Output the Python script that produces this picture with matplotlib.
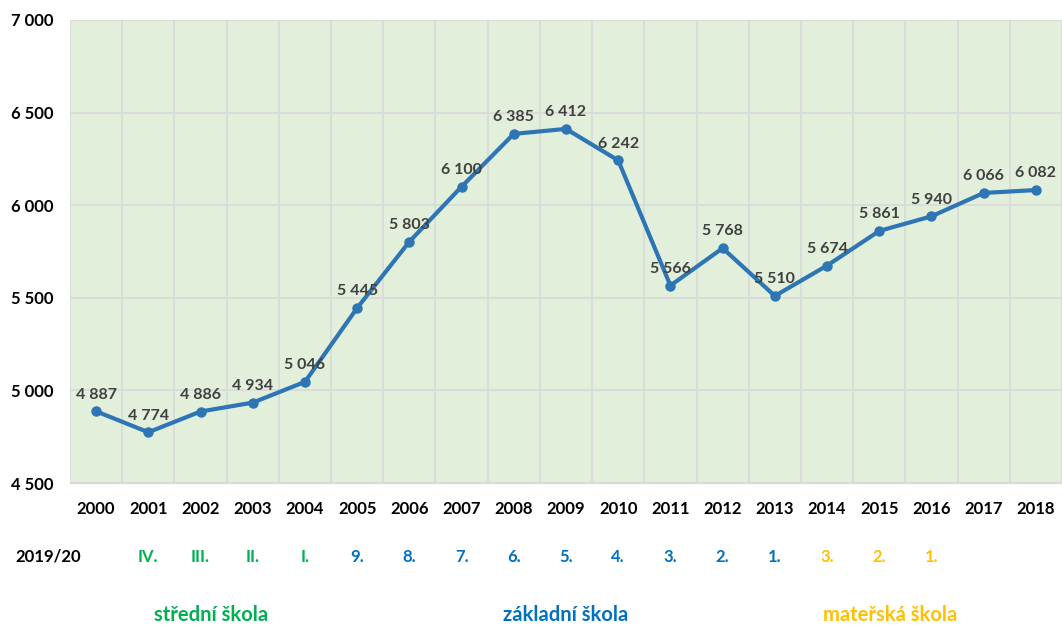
import matplotlib
matplotlib.use("Agg")
import matplotlib.pyplot as plt

years = [str(y) for y in range(2000, 2019)]
values = [4887, 4774, 4886, 4934, 5046, 5445, 5803, 6100, 6385, 6412, 6242,
          5566, 5768, 5510, 5674, 5861, 5940, 6066, 6082]
grades = ["", "IV.", "III.", "II.", "I.", "9.", "8.", "7.", "6.", "5.", "4.",
          "3.", "2.", "1.", "3.", "2.", "1.", "", ""]
grade_groups = ["", "s", "s", "s", "s", "z", "z", "z", "z", "z", "z",
                "z", "z", "z", "m", "m", "m", "", ""]
group_names = {"s": "střední škola", "z": "základní škola", "m": "mateřská škola"}
group_centers = {"s": 2.2, "z": 9.0, "m": 15.2}
yticks = [4500, 5000, 5500, 6000, 6500, 7000]

colors = {"s": "#00B050", "z": "#0070C0", "m": "#FFC000"}

plt.rcParams['font.family'] = ['Lato', 'DejaVu Sans']

fig = plt.figure(figsize=(10.62, 6.26), dpi=100)
ax = fig.add_axes([70/1062, 143/626, 992/1062, 463/626])
ax.set_facecolor("#E2EFDA")

x = list(range(len(years)))
ax.plot(x, values, color="#2E75B6", lw=3, marker="o", ms=6.5, zorder=3, clip_on=False)

def fmt(v):
    return f"{v:,}".replace(",", " ")

for xi, v in zip(x, values):
    ax.annotate(fmt(v), (xi, v), xytext=(0, 7), textcoords="offset points",
                ha="center", va="bottom", fontsize=11.5, fontweight="bold", color="#404040")

ax.set_xlim(-0.5, len(years) - 0.5)
ax.set_ylim(4500, 7000)
ax.set_yticks(yticks)
ax.set_yticklabels([fmt(v) for v in yticks], fontsize=12, fontweight="bold")
ax.set_xticks(x)
ax.set_xticklabels(years, fontsize=12, fontweight="bold")
ax.set_xticks([i - 0.5 for i in range(len(years) + 1)], minor=True)
ax.tick_params(axis="both", which="both", length=0)
ax.tick_params(axis="x", pad=13)
ax.tick_params(axis="y", pad=12)
ax.grid(True, which="minor", axis="x", color="#D9D9D9", lw=1.2)
ax.grid(True, which="major", axis="y", color="#D9D9D9", lw=1.2)
for s in ax.spines.values():
    s.set_visible(False)
ax.spines["bottom"].set_visible(True)
ax.spines["bottom"].set_color("#D9D9D9")
ax.set_axisbelow(True)

trans = ax.get_xaxis_transform()
fig.text(48/1062, 1 - 557/626, "2019/20", ha="center", va="center",
         fontsize=12, fontweight="bold", color="black")
for xi, g, grp in zip(x, grades, grade_groups):
    if g:
        ax.text(xi, -0.16, g, transform=trans, ha="center", va="center",
                fontsize=12, fontweight="bold", color=colors[grp])
for key, name in group_names.items():
    ax.text(group_centers[key], -0.285, name, transform=trans, ha="center", va="center",
            fontsize=14.5, fontweight="bold", color=colors[key])

fig.savefig("out.png", dpi=100)
